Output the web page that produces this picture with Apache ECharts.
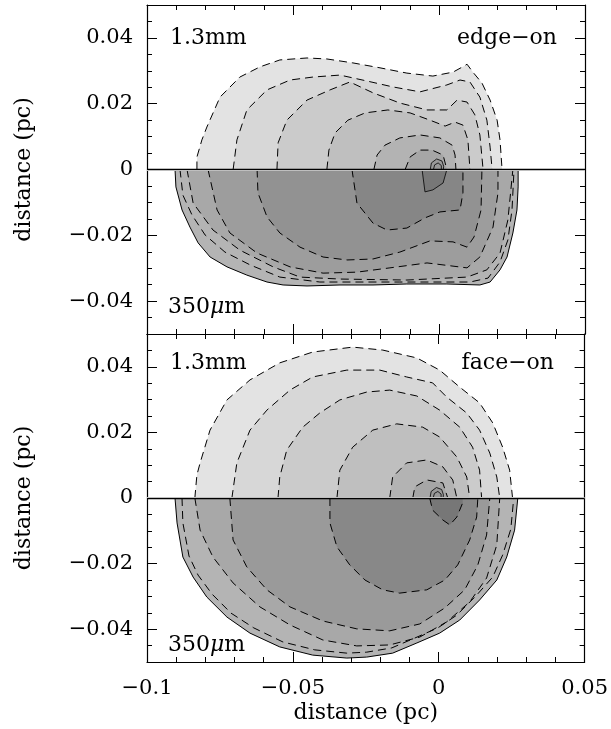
<!DOCTYPE html>
<html>
<head>
<meta charset="utf-8">
<script src="https://cdn.jsdelivr.net/npm/echarts@6/dist/echarts.min.js"></script>
<style>
html,body{margin:0;padding:0;background:#fff}
#chart{width:611px;height:729px}
</style>
</head>
<body>
<div id="chart"></div>
<script>
// axis labels
var yLabelValues = [-0.04, -0.02, 0, 0.02, 0.04];

// edge-on, 1.3mm (upper half), outer -> inner
var edge13_1 = [[-0.0829,0],[-0.0829,0.0038],[-0.0812,0.0090],[-0.0795,0.0129],[-0.0750,0.0220],[-0.0682,0.0281],[-0.0613,0.0312],[-0.0545,0.0333],[-0.0452,0.0339],[-0.0384,0.0336],[-0.0295,0.0324],[-0.0202,0.0309],[-0.0110,0.0293],[-0.0021,0.0284],[0.0048,0.0296],[0.0085,0.0314],[0.0096,0.0320],[0.0116,0.0296],[0.0147,0.0263],[0.0175,0.0211],[0.0199,0.0150],[0.0209,0.0090],[0.0216,0]];
var edge13_2 = [[-0.0705,0],[-0.0692,0.0090],[-0.0658,0.0181],[-0.0589,0.0242],[-0.0510,0.0272],[-0.0432,0.0281],[-0.0339,0.0287],[-0.0247,0.0269],[-0.0158,0.0251],[-0.0065,0.0236],[0.0027,0.0257],[0.0072,0.0272],[0.0106,0.0266],[0.0140,0.0220],[0.0164,0.0150],[0.0175,0.0068],[0.0182,0]];
var edge13_3 = [[-0.0555,0],[-0.0551,0.0081],[-0.0521,0.0150],[-0.0452,0.0211],[-0.0373,0.0242],[-0.0305,0.0266],[-0.0226,0.0233],[-0.0134,0.0202],[-0.0041,0.0181],[0.0027,0.0181],[0.0062,0.0211],[0.0096,0.0205],[0.0123,0.0166],[0.0140,0.0105],[0.0151,0]];
var edge13_4 = [[-0.0384,0],[-0.0377,0.0059],[-0.0356,0.0111],[-0.0312,0.0150],[-0.0253,0.0172],[-0.0175,0.0181],[-0.0099,0.0172],[-0.0031,0.0150],[0.0021,0.0132],[0.0055,0.0144],[0.0082,0.0135],[0.0099,0.0090],[0.0106,0]];
var edge13_5 = [[-0.0223,0],[-0.0212,0.0044],[-0.0185,0.0074],[-0.0134,0.0096],[-0.0065,0.0105],[0.0003,0.0096],[0.0045,0.0074],[0.0055,0.0044],[0.0058,0]];
var edge13_6 = [[-0.0116,0],[-0.0099,0.0038],[-0.0065,0.0059],[-0.0024,0.0059],[0.0014,0.0044],[0.0027,0]];
var edge13_7 = [[-0.0030,0],[-0.0026,0.0020],[-0.0008,0.0032],[0.0010,0.0026],[0.0016,0.0010],[0.0015,0]];
var edge13_8 = [[-0.0019,0],[-0.0015,0.0014],[-0.0003,0.0020],[0.0008,0.0012],[0.0008,0]];

// edge-on, 350um (lower half)
var edge350_0 = [[-0.0904,0],[-0.0901,-0.0053],[-0.0880,-0.0123],[-0.0853,-0.0175],[-0.0825,-0.0223],[-0.0784,-0.0266],[-0.0726,-0.0296],[-0.0658,-0.0321],[-0.0589,-0.0342],[-0.0534,-0.0351],[-0.0452,-0.0354],[-0.0339,-0.0351],[-0.0226,-0.0351],[-0.0110,-0.0348],[0.0027,-0.0348],[0.0140,-0.0351],[0.0175,-0.0342],[0.0209,-0.0305],[0.0233,-0.0266],[0.0253,-0.0193],[0.0267,-0.0123],[0.0271,-0.0053],[0.0271,0]];
var edge350_1 = [[-0.0887,0],[-0.0877,-0.0078],[-0.0846,-0.0138],[-0.0801,-0.0199],[-0.0733,-0.0251],[-0.0647,-0.0290],[-0.0545,-0.0327],[-0.0408,-0.0342],[-0.0134,-0.0342],[0.0106,-0.0342],[0.0168,-0.0330],[0.0209,-0.0281],[0.0236,-0.0214],[0.0250,-0.0123],[0.0257,0]];
var edge350_2 = [[-0.0863,0],[-0.0842,-0.0102],[-0.0774,-0.0184],[-0.0682,-0.0245],[-0.0568,-0.0296],[-0.0476,-0.0327],[-0.0339,-0.0333],[-0.0110,-0.0336],[0.0096,-0.0327],[0.0164,-0.0305],[0.0209,-0.0254],[0.0236,-0.0153],[0.0253,0]];
var edge350_3 = [[-0.0791,0],[-0.0760,-0.0123],[-0.0716,-0.0193],[-0.0623,-0.0254],[-0.0510,-0.0296],[-0.0397,-0.0315],[-0.0281,-0.0312],[-0.0168,-0.0299],[-0.0041,-0.0284],[0.0096,-0.0299],[0.0140,-0.0266],[0.0185,-0.0175],[0.0202,-0.0071],[0.0202,0]];
var edge350_4 = [[-0.0623,0],[-0.0620,-0.0071],[-0.0589,-0.0144],[-0.0545,-0.0193],[-0.0476,-0.0236],[-0.0397,-0.0266],[-0.0315,-0.0275],[-0.0226,-0.0272],[-0.0134,-0.0251],[-0.0031,-0.0217],[0.0048,-0.0220],[0.0096,-0.0236],[0.0120,-0.0205],[0.0144,-0.0123],[0.0147,0]];
var edge350_5 = [[-0.0298,0],[-0.0281,-0.0102],[-0.0226,-0.0163],[-0.0178,-0.0184],[-0.0110,-0.0178],[-0.0048,-0.0147],[0.0003,-0.0129],[0.0072,-0.0123],[0.0082,-0.0071],[0.0082,0]];
var edge350_6 = [[-0.0058,0],[-0.0048,-0.0068],[-0.0021,-0.0062],[0.0014,-0.0041],[0.0027,0]];

// face-on, 1.3mm (upper half)
var face13_1 = [[-0.0836,0],[-0.0829,0.0070],[-0.0818,0.0107],[-0.0784,0.0207],[-0.0726,0.0299],[-0.0647,0.0360],[-0.0545,0.0412],[-0.0432,0.0445],[-0.0295,0.0460],[-0.0192,0.0451],[-0.0075,0.0427],[0.0003,0.0390],[0.0072,0.0338],[0.0140,0.0290],[0.0185,0.0229],[0.0219,0.0155],[0.0243,0.0085],[0.0253,0]];
var face13_2 = [[-0.0709,0],[-0.0692,0.0107],[-0.0647,0.0207],[-0.0589,0.0268],[-0.0510,0.0329],[-0.0432,0.0369],[-0.0315,0.0390],[-0.0202,0.0390],[-0.0110,0.0369],[-0.0021,0.0351],[0.0027,0.0308],[0.0096,0.0259],[0.0140,0.0207],[0.0175,0.0137],[0.0199,0.0064],[0.0209,0]];
var face13_3 = [[-0.0551,0],[-0.0545,0.0064],[-0.0521,0.0146],[-0.0466,0.0216],[-0.0408,0.0259],[-0.0339,0.0299],[-0.0247,0.0323],[-0.0168,0.0329],[-0.0075,0.0311],[0.0003,0.0268],[0.0072,0.0216],[0.0116,0.0155],[0.0140,0.0085],[0.0147,0]];
var face13_4 = [[-0.0349,0],[-0.0339,0.0085],[-0.0295,0.0155],[-0.0226,0.0207],[-0.0144,0.0226],[-0.0055,0.0216],[0.0003,0.0186],[0.0062,0.0125],[0.0096,0.0064],[0.0106,0]];
var face13_5 = [[-0.0168,0],[-0.0158,0.0064],[-0.0110,0.0107],[-0.0041,0.0116],[0.0014,0.0095],[0.0048,0.0055],[0.0062,0]];
var face13_6 = [[-0.0089,0],[-0.0082,0.0034],[-0.0041,0.0055],[0.0014,0.0046],[0.0031,0]];
var face13_7 = [[-0.0030,0],[-0.0026,0.0020],[-0.0008,0.0032],[0.0010,0.0026],[0.0016,0.0010],[0.0015,0]];
var face13_8 = [[-0.0019,0],[-0.0015,0.0014],[-0.0003,0.0020],[0.0008,0.0012],[0.0008,0]];

// face-on, 350um (lower half)
var face350_0 = [[-0.0904,0],[-0.0897,-0.0076],[-0.0877,-0.0180],[-0.0842,-0.0241],[-0.0795,-0.0302],[-0.0726,-0.0363],[-0.0647,-0.0412],[-0.0545,-0.0454],[-0.0432,-0.0479],[-0.0315,-0.0488],[-0.0247,-0.0485],[-0.0158,-0.0473],[-0.0075,-0.0442],[0.0003,-0.0412],[0.0072,-0.0372],[0.0140,-0.0311],[0.0199,-0.0250],[0.0233,-0.0180],[0.0260,-0.0098],[0.0271,0]];
var face350_1 = [[-0.0880,0],[-0.0877,-0.0076],[-0.0856,-0.0177],[-0.0825,-0.0235],[-0.0777,-0.0293],[-0.0712,-0.0351],[-0.0634,-0.0396],[-0.0534,-0.0439],[-0.0425,-0.0463],[-0.0315,-0.0473],[-0.0247,-0.0470],[-0.0161,-0.0457],[-0.0082,-0.0427],[-0.0003,-0.0396],[0.0062,-0.0357],[0.0127,-0.0299],[0.0185,-0.0241],[0.0219,-0.0174],[0.0247,-0.0095],[0.0257,0]];
var face350_2 = [[-0.0836,0],[-0.0818,-0.0098],[-0.0774,-0.0180],[-0.0705,-0.0259],[-0.0613,-0.0332],[-0.0510,-0.0387],[-0.0397,-0.0433],[-0.0281,-0.0451],[-0.0168,-0.0448],[-0.0065,-0.0424],[0.0027,-0.0378],[0.0106,-0.0317],[0.0164,-0.0244],[0.0199,-0.0143],[0.0209,0]];
var face350_3 = [[-0.0716,0],[-0.0705,-0.0128],[-0.0658,-0.0210],[-0.0589,-0.0280],[-0.0510,-0.0332],[-0.0397,-0.0375],[-0.0281,-0.0399],[-0.0168,-0.0405],[-0.0065,-0.0384],[0.0021,-0.0335],[0.0089,-0.0280],[0.0134,-0.0204],[0.0164,-0.0113],[0.0175,0]];
var face350_4 = [[-0.0373,0],[-0.0373,-0.0076],[-0.0349,-0.0149],[-0.0305,-0.0204],[-0.0253,-0.0250],[-0.0192,-0.0280],[-0.0134,-0.0290],[-0.0041,-0.0280],[0.0021,-0.0250],[0.0065,-0.0204],[0.0106,-0.0128],[0.0130,-0.0058],[0.0134,0]];
var face350_5 = [[-0.0031,0],[-0.0021,-0.0037],[0.0014,-0.0067],[0.0038,-0.0082],[0.0062,-0.0058],[0.0082,-0.0015],[0.0082,0]];

var FONT = 'DejaVu Serif';
var DASH = [8, 5];

function contour(pts, g, fill, line, w) {
  return {
    type: 'line', xAxisIndex: g * 2, yAxisIndex: g * 4,
    data: pts, symbol: 'none', smooth: false, silent: true,
    lineStyle: line ? { color: '#000', width: w || 1, type: line } : { width: 0, opacity: 0 },
    areaStyle: fill ? { color: fill, opacity: 1, origin: 0 } : null
  };
}

var series = [
  // panel 0 upper: edge-on 1.3mm
  contour(edge13_1, 0, '#e3e3e3', DASH),
  contour(edge13_2, 0, '#d7d7d7', DASH),
  contour(edge13_3, 0, '#cbcbcb', DASH),
  contour(edge13_4, 0, '#bfbfbf', DASH),
  contour(edge13_5, 0, '#b3b3b3', DASH),
  contour(edge13_6, 0, '#a6a6a6', DASH),
  contour(edge13_7, 0, '#999999', 'solid', 0.8),
  contour(edge13_8, 0, null, 'solid', 0.8),
  // panel 0 lower: edge-on 350um
  contour(edge350_0, 0, '#b4b4b4', 'solid'),
  contour(edge350_1, 0, null, DASH),
  contour(edge350_2, 0, '#a8a8a8', DASH),
  contour(edge350_3, 0, '#9d9d9d', DASH),
  contour(edge350_4, 0, '#929292', DASH),
  contour(edge350_5, 0, '#868686', DASH),
  contour(edge350_6, 0, '#777777', 'solid', 0.8),
  // panel 1 upper: face-on 1.3mm
  contour(face13_1, 1, '#e3e3e3', DASH),
  contour(face13_2, 1, '#d7d7d7', DASH),
  contour(face13_3, 1, '#cbcbcb', DASH),
  contour(face13_4, 1, '#bfbfbf', DASH),
  contour(face13_5, 1, '#b3b3b3', DASH),
  contour(face13_6, 1, '#a6a6a6', DASH),
  contour(face13_7, 1, '#999999', 'solid', 0.8),
  contour(face13_8, 1, null, 'solid', 0.8),
  // panel 1 lower: face-on 350um
  contour(face350_0, 1, '#b4b4b4', 'solid'),
  contour(face350_1, 1, null, DASH),
  contour(face350_2, 1, '#a8a8a8', DASH),
  contour(face350_3, 1, '#9a9a9a', DASH),
  contour(face350_4, 1, '#888888', DASH),
  contour(face350_5, 1, '#777777', DASH)
];

// zero line with a thin white gap above it
[0, 1].forEach(function (g) {
  series.push({
    type: 'line', xAxisIndex: g * 2, yAxisIndex: g * 4, data: [], silent: true,
    markLine: {
      symbol: 'none', silent: true, label: { show: false }, animation: false,
      data: [
        { yAxis: 0.0006, lineStyle: { color: '#fff', width: 2, type: 'solid' } },
        { yAxis: 0, lineStyle: { color: '#000', width: 1.4, type: 'solid' } }
      ]
    },
    z: 10
  });
});

function fmt(v) {
  var s = String(+(+v).toFixed(3));
  return s.replace('-', '\u2212');
}

var labelStyle = { color: '#000', fontFamily: FONT, fontSize: 21 };
var line = { show: true, onZero: false, lineStyle: { color: '#000', width: 1.2 } };

var grids = [
  { left: 147, top: 5, width: 438, height: 329 },
  { left: 147, top: 334, width: 438, height: 328 }
];

var xAxes = [], yAxes = [];
grids.forEach(function (gr, g) {
  ['bottom', 'top'].forEach(function (pos) {
    var showLab = (g === 1 && pos === 'bottom');
    xAxes.push({
      type: 'value', gridIndex: g, position: pos, min: -0.1, max: 0.05, interval: 0.05,
      axisLine: line, splitLine: { show: false },
      axisTick: { show: true, inside: true, length: 10, lineStyle: { color: '#000', width: 1 } },
      minorTick: { show: true, splitNumber: 5, length: 5, lineStyle: { color: '#000', width: 1 } },
      axisLabel: Object.assign({ show: showLab, margin: 16, formatter: fmt }, labelStyle),
      name: showLab ? 'distance (pc)' : '', nameLocation: 'middle', nameGap: 40,
      nameTextStyle: { color: '#000', fontFamily: FONT, fontSize: 22 }
    });
  });
  ['left', 'right'].forEach(function (pos) {
    // minor ticks (every 0.005) + labels
    yAxes.push({
      type: 'value', gridIndex: g, position: pos, min: -0.05, max: 0.05, interval: 0.005,
      axisLine: line, splitLine: { show: false },
      axisTick: { show: true, inside: true, length: 5, lineStyle: { color: '#000', width: 1 } },
      axisLabel: Object.assign({ show: pos === 'left', margin: 14, customValues: yLabelValues, formatter: fmt }, labelStyle),
      name: pos === 'left' ? 'distance (pc)' : '', nameLocation: 'middle', nameRotate: 90, nameGap: 112,
      nameTextStyle: { color: '#000', fontFamily: FONT, fontSize: 22 }
    });
    // major ticks
    yAxes.push({
      type: 'value', gridIndex: g, position: pos, min: -0.05, max: 0.05, interval: 0.005,
      axisLine: { show: false, onZero: false }, splitLine: { show: false },
      axisTick: { show: true, inside: true, length: 10, customValues: yLabelValues, lineStyle: { color: '#000', width: 1 } },
      axisLabel: { show: false }
    });
  });
});

var txt = { fontFamily: FONT, fontSize: 22, fill: '#000', verticalAlign: 'middle' };
function label(x, y, text, align) {
  return {
    type: 'text', x: x, y: y, z: 20,
    style: Object.assign({ text: text, align: align,
      rich: { i: { fontFamily: FONT, fontSize: 22, fontStyle: 'italic' } } }, txt)
  };
}

var option = {
  animation: false,
  backgroundColor: '#fff',
  grid: grids,
  xAxis: xAxes,
  yAxis: yAxes,
  series: series,
  graphic: [
    label(170, 38, '1.3mm', 'left'),
    label(557, 38, 'edge\u2212on', 'right'),
    label(168, 307, '350{i|\u03bc}m', 'left'),
    label(170, 363, '1.3mm', 'left'),
    label(554, 363, 'face\u2212on', 'right'),
    label(168, 645, '350{i|\u03bc}m', 'left')
  ]
};

var myChart = echarts.init(document.getElementById('chart'));
myChart.setOption(option);
</script>
</body>
</html>
